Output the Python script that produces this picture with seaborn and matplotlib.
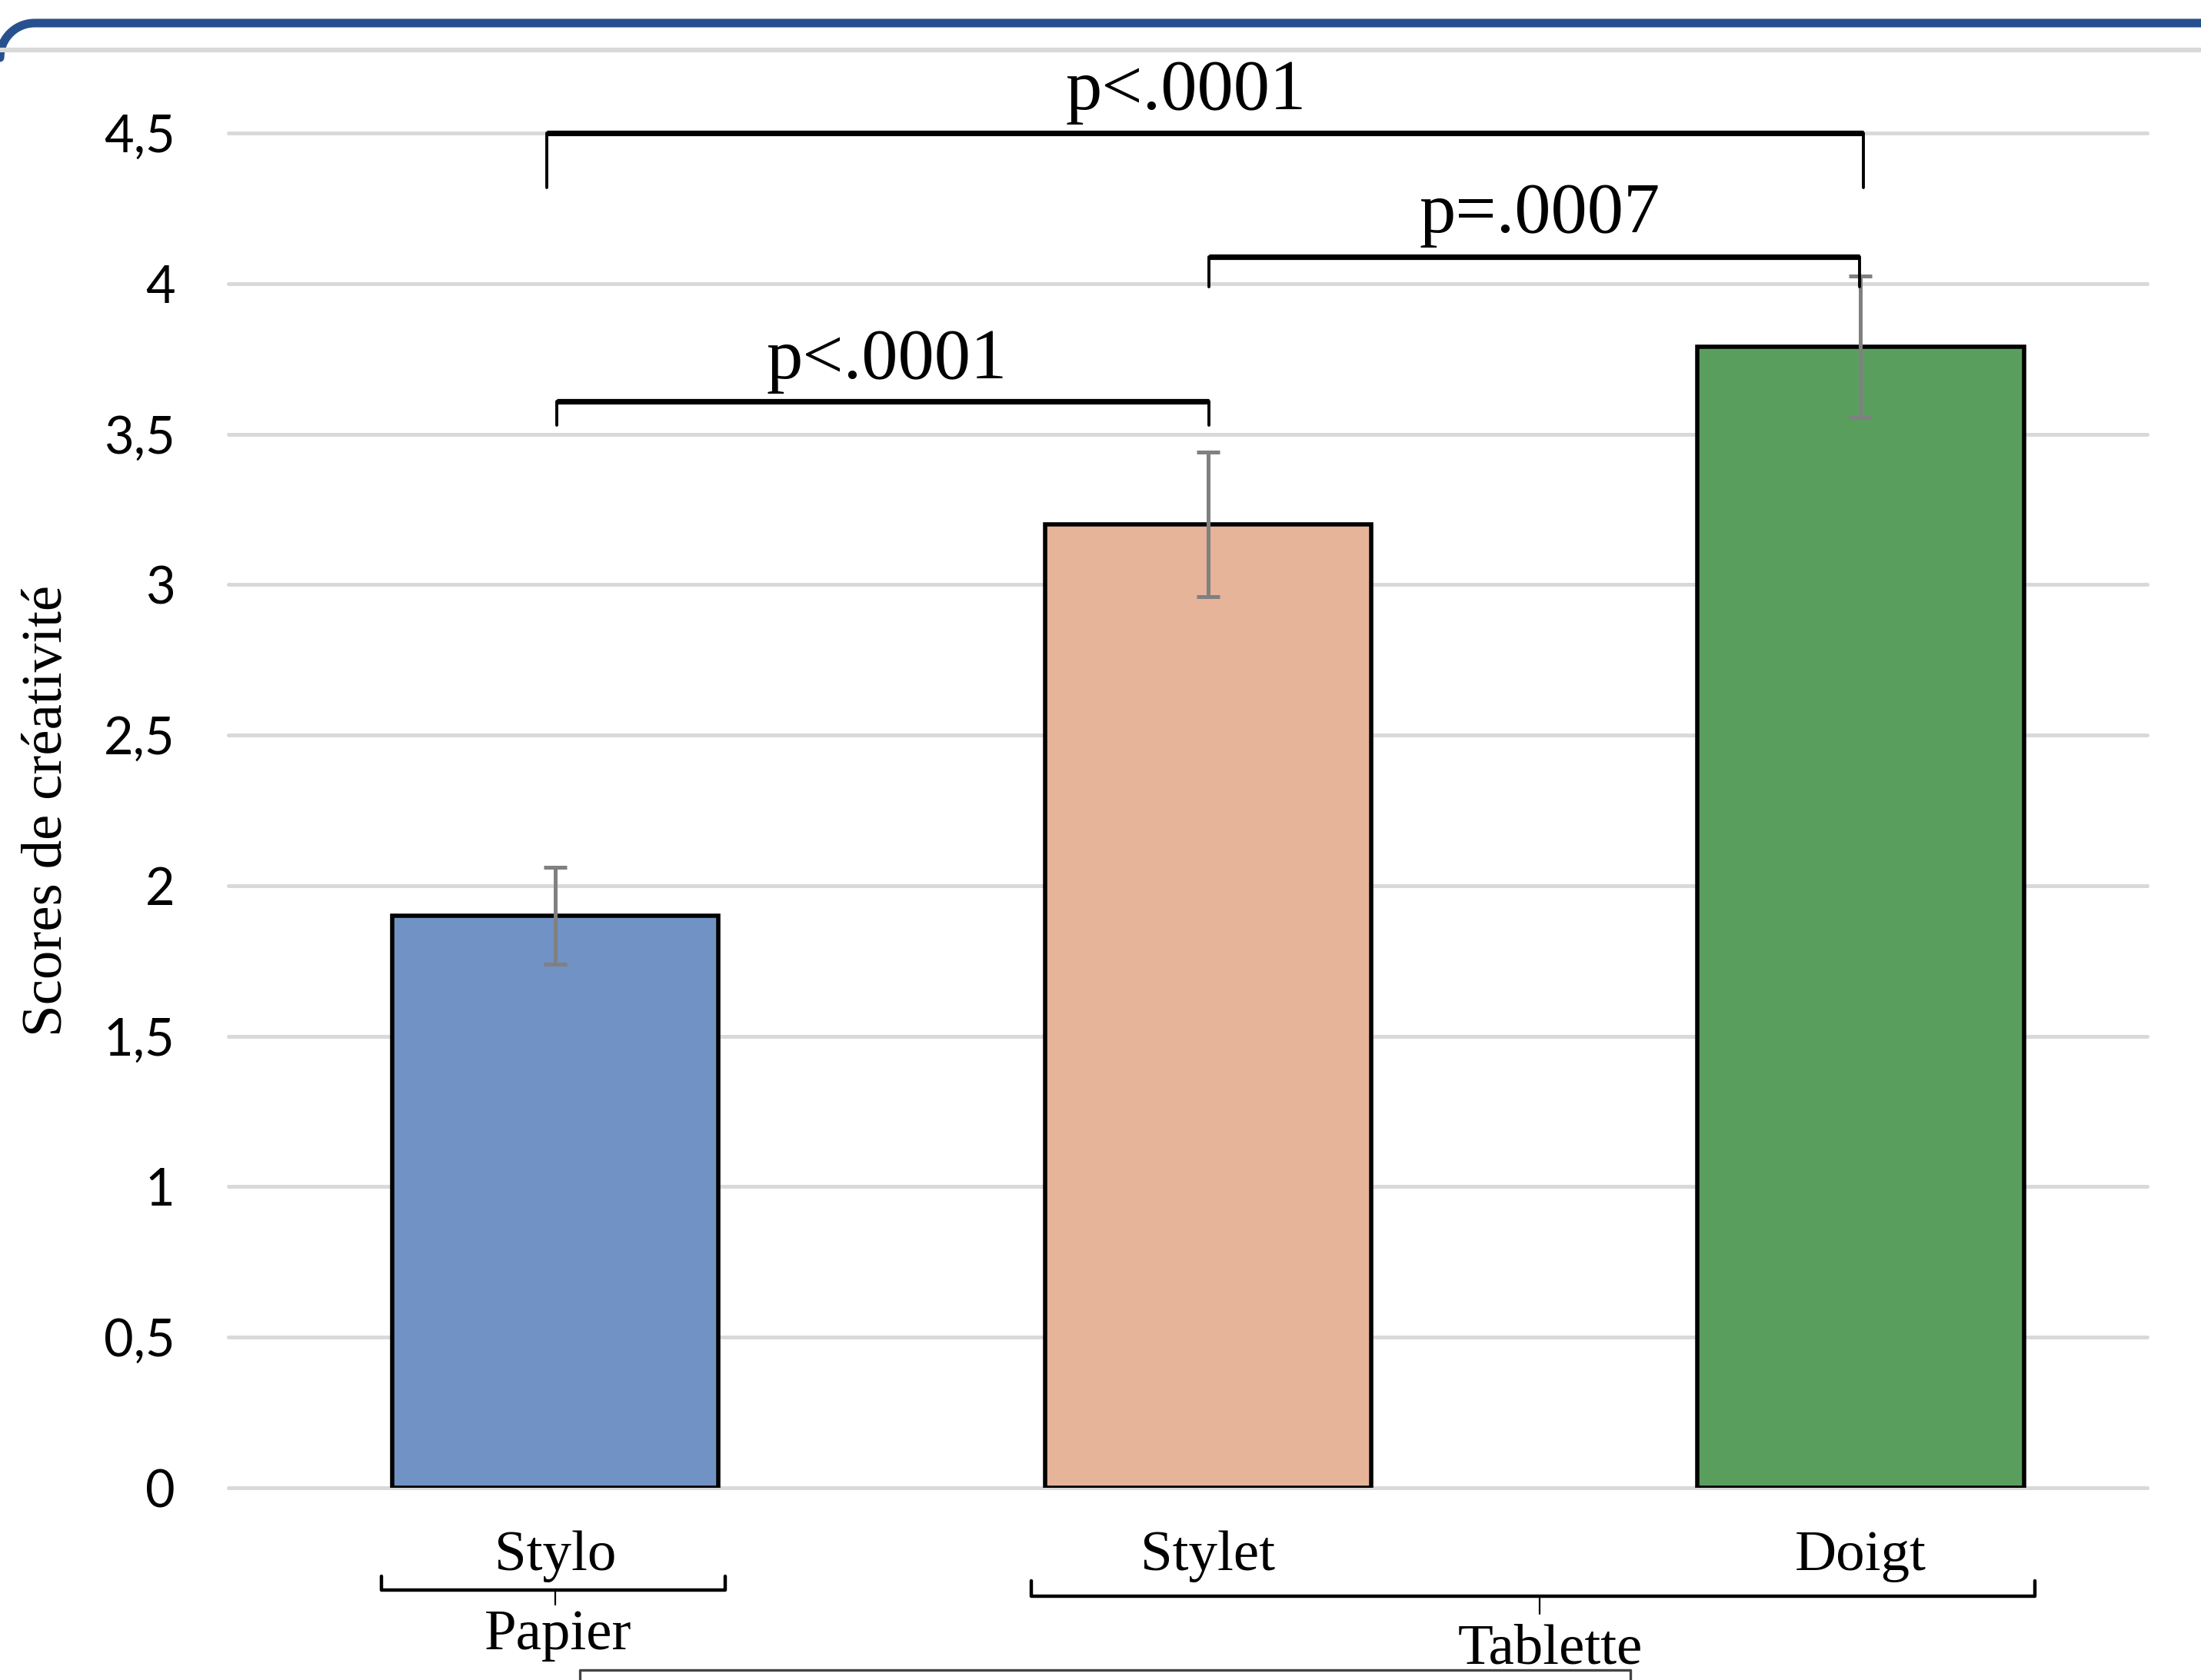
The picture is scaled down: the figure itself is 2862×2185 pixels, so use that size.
import numpy as np
import matplotlib.pyplot as plt
import matplotlib.lines as mlines
import seaborn as sns

# Data
categories = ["Stylo", "Stylet", "Doigt"]
scores = [1.90, 3.20, 3.79]
errors = [0.16, 0.24, 0.235]
bar_colors = ["#7092C4", "#E5B499", "#5A9E5E"]
y_ticks = [0, 0.5, 1, 1.5, 2, 2.5, 3, 3.5, 4, 4.5]
y_ticklabels = ["0", "0,5", "1", "1,5", "2", "2,5", "3", "3,5", "4", "4,5"]
groups = ["Papier", "Tablette"]
pvalues = ["p<.0001", "p=.0007", "p<.0001"]

sns.set_style("white")
plt.rcParams["font.family"] = ["Lato", "DejaVu Sans"]
plt.rcParams["text.color"] = "black"
plt.rcParams["ytick.color"] = "black"
plt.rcParams["xtick.color"] = "black"
plt.rcParams["axes.labelcolor"] = "black"
SERIF = ["Liberation Serif", "DejaVu Serif"]

fig = plt.figure(figsize=(14.31, 10.925), dpi=200)
ax = fig.add_axes([0.1038, 0.1144, 0.8717, 0.8064])

sns.barplot(x=categories, y=scores, hue=categories, palette=bar_colors, legend=False,
            saturation=1, width=0.5, edgecolor="black", linewidth=2, ax=ax, zorder=2)
ax.errorbar(range(len(categories)), scores, yerr=errors, fmt="none", ecolor="#808080",
            elinewidth=1.8, capsize=5.5, capthick=1.8, zorder=3)

ax.set_ylim(0, 4.5)
ax.set_xlim(-0.501, 2.439)
ax.set_yticks(y_ticks)
ax.set_yticklabels(y_ticklabels, fontsize=24)
ax.tick_params(axis="y", length=0, pad=25)
ax.tick_params(axis="x", length=0, pad=20)
ax.set_xticks(range(len(categories)))
ax.set_xticklabels(categories, fontsize=27, family=SERIF)
ax.yaxis.grid(True, color="#D9D9D9", lw=1.8)
for gl in ax.get_ygridlines():
    gl.set_clip_on(False)
ax.set_axisbelow(True)
for s in ax.spines.values():
    s.set_visible(False)
ax.set_xlabel("")
ax.set_ylabel("Scores de créativité", fontsize=27, family=SERIF, labelpad=14)


def bracket(x0, x1, y, ydrop, label, tx, ty):
    ax.plot([x0, x1], [y, y], color="black", lw=2.6, clip_on=False, zorder=4,
            solid_capstyle="butt")
    ax.plot([x0, x0], [y, ydrop], color="black", lw=1.4, clip_on=False, zorder=4)
    ax.plot([x1, x1], [y, ydrop], color="black", lw=1.4, clip_on=False, zorder=4)
    ax.text(tx, ty, label, fontsize=34, family=SERIF, ha="center", va="baseline")


bracket(-0.013, 2.004, 4.50, 4.32, pvalues[0], 0.966, 4.58)
bracket(1.002, 1.998, 4.09, 3.99, pvalues[1], 1.508, 4.17)
bracket(0.002, 1.002, 3.61, 3.53, pvalues[2], 0.508, 3.685)


def group_brace(x0, x1, xm, y, yup, ydown, label, tx, ty):
    ax.plot([x0, x0, x1, x1], [yup, y, y, yup], color="black", lw=1.6, clip_on=False)
    ax.plot([xm, xm], [y, ydown], color="black", lw=0.8, clip_on=False)
    ax.text(tx, ty, label, fontsize=27, family=SERIF, ha="center", va="baseline")


group_brace(-0.267, 0.260, 0.0, -0.340, -0.294, -0.387, groups[0], 0.004, -0.536)
group_brace(0.729, 2.267, 1.508, -0.359, -0.308, -0.420, groups[1], 1.525, -0.583)
ax.plot([0.037, 0.037, 1.647, 1.647], [-0.70, -0.606, -0.606, -0.70], color="#444444",
        lw=1.2, clip_on=False)

# slide decoration at the top
W, H = 2862, 2185
ang = np.linspace(np.pi, np.pi / 2, 20)
xs = list(45 + 45 * np.cos(ang)) + [W]
ys = list(75 - 45 * np.sin(ang)) + [30]
fig.add_artist(mlines.Line2D([x / W for x in xs], [1 - y / H for y in ys],
                             color="#27508F", lw=4, transform=fig.transFigure))
fig.add_artist(mlines.Line2D([0, 1], [1 - 65 / H, 1 - 65 / H], color="#D9D9D9", lw=2.2,
                             transform=fig.transFigure))

fig.savefig("out.png", dpi=200)
